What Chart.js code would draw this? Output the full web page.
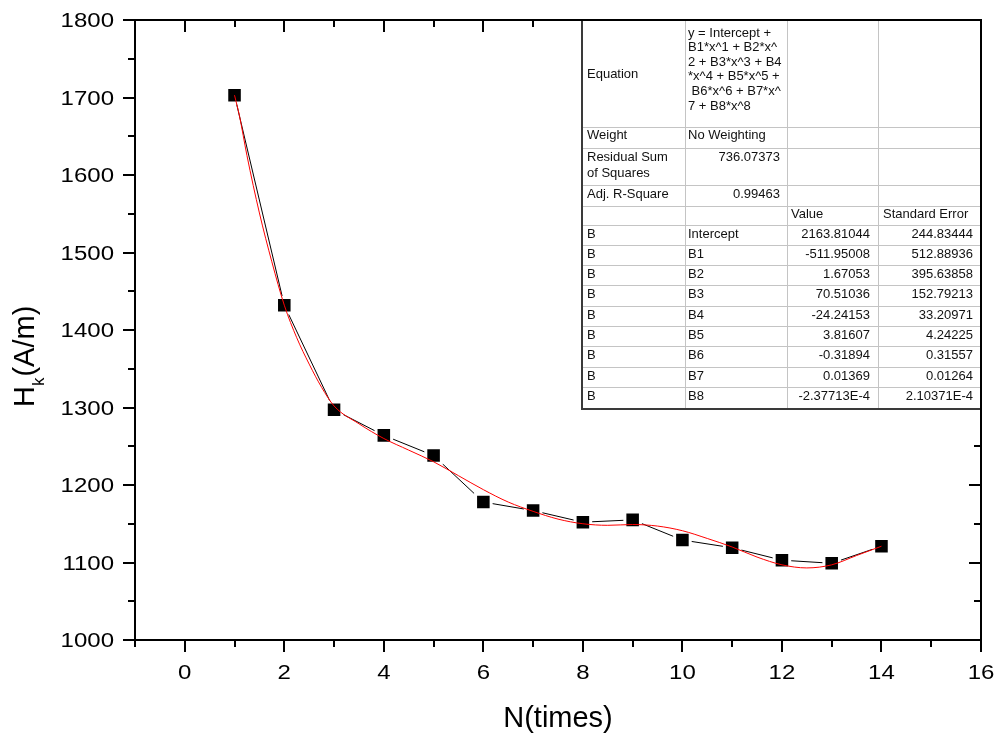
<!DOCTYPE html>
<html>
<head>
<meta charset="utf-8">
<title>Hk vs N</title>
<script src="https://cdn.jsdelivr.net/npm/chart.js@4.4.0/dist/chart.umd.min.js"></script>
<style>
body { margin: 0; background: #fff; }
canvas { display: block; }
</style>
</head>
<body>
<canvas id="hk_chart" width="1000" height="737"></canvas>
<script>
// measured points
let n_values = [1, 2, 3, 4, 5, 6, 7, 8, 9, 10, 11, 12, 13, 14];
let hk_values = [1703, 1432, 1297, 1264, 1238, 1178, 1167, 1152, 1155, 1129, 1119, 1103, 1099, 1121];

// polynomial fit curve
let fit_n = [1, 1.1, 1.25, 1.5, 1.75, 2, 2.25, 2.5, 2.75, 3, 3.5, 4, 4.5, 5, 5.5, 6, 6.5, 7, 7.5, 8, 8.5, 9, 9.5, 10, 10.5, 11, 11.5, 12, 12.5, 13, 13.5, 14];
let fit_hk = [1703, 1676, 1625, 1551, 1488, 1432, 1390, 1356, 1326, 1302, 1279, 1260, 1245, 1230, 1212, 1194, 1178, 1166, 1156, 1150, 1148, 1149, 1147, 1141, 1131, 1120, 1107, 1097, 1093, 1097, 1109, 1121];

let x_ticks = [0, 2, 4, 6, 8, 10, 12, 14, 16];
let x_minor = [-1, 1, 3, 5, 7, 9, 11, 13, 15];
let y_ticks = [1000, 1100, 1200, 1300, 1400, 1500, 1600, 1700, 1800];
let y_minor = [1050, 1150, 1250, 1350, 1450, 1550, 1650, 1750];

// fit report table
let equation_lines = ["y = Intercept +", "B1*x^1 + B2*x^", "2 + B3*x^3 + B4", "*x^4 + B5*x^5 +", " B6*x^6 + B7*x^", "7 + B8*x^8"];
let weight_text = "No Weighting";
let residual_ss = "736.07373";
let adj_r_square = "0.99463";
let param_names = ["Intercept", "B1", "B2", "B3", "B4", "B5", "B6", "B7", "B8"];
let param_values = ["2163.81044", "-511.95008", "1.67053", "70.51036", "-24.24153", "3.81607", "-0.31894", "0.01369", "-2.37713E-4"];
let param_errors = ["244.83444", "512.88936", "395.63858", "152.79213", "33.20971", "4.24225", "0.31557", "0.01264", "2.10371E-4"];

const FONT = '"Liberation Sans", Arial, sans-serif';

function draw_table(ctx) {
    let cols = [581, 685, 787, 878, 981];
    let rows = [20, 127, 148, 185, 206, 225, 245, 265, 285, 306, 326, 346, 367, 387, 409];
    ctx.fillStyle = "#fff";
    ctx.fillRect(cols[0], rows[0], cols[4] - cols[0], rows[rows.length - 1] - rows[0]);

    ctx.strokeStyle = "#c4c4c4";
    ctx.lineWidth = 1;
    ctx.beginPath();
    for (let i = 1; i < rows.length - 1; i++) {
        ctx.moveTo(cols[0], rows[i] + 0.5);
        ctx.lineTo(cols[4], rows[i] + 0.5);
    }
    for (let i = 1; i < cols.length - 1; i++) {
        ctx.moveTo(cols[i] + 0.5, rows[0]);
        ctx.lineTo(cols[i] + 0.5, rows[rows.length - 1]);
    }
    ctx.stroke();

    ctx.strokeStyle = "#3a3a3a";
    ctx.lineWidth = 2;
    ctx.beginPath();
    ctx.moveTo(cols[0] + 1, rows[0]);
    ctx.lineTo(cols[0] + 1, rows[rows.length - 1]);
    ctx.lineTo(cols[4], rows[rows.length - 1]);
    ctx.stroke();

    ctx.fillStyle = "#111";
    ctx.font = "13px " + FONT;
    ctx.textBaseline = "middle";
    let left1 = cols[0] + 6, left2 = cols[1] + 3;

    ctx.textAlign = "left";
    ctx.fillText("Equation", left1, 74);
    equation_lines.forEach((line, i) => ctx.fillText(line, left2, 33 + i * 14.6));

    ctx.fillText("Weight", left1, 135.5);
    ctx.fillText(weight_text, left2, 135.5);

    ctx.fillText("Residual Sum", left1, 157.5);
    ctx.fillText("of Squares", left1, 173);
    ctx.fillText("Adj. R-Square", left1, 194.5);

    ctx.fillText("Value", cols[2] + 4, 214);
    ctx.fillText("Standard Error", cols[3] + 5, 214);

    ctx.textAlign = "right";
    ctx.fillText(residual_ss, cols[2] - 7, 157.5);
    ctx.fillText(adj_r_square, cols[2] - 7, 194.5);

    for (let i = 0; i < param_names.length; i++) {
        let y = rows[5 + i] + 9;
        ctx.textAlign = "left";
        ctx.fillText("B", left1, y);
        ctx.fillText(param_names[i], left2, y);
        ctx.textAlign = "right";
        ctx.fillText(param_values[i], cols[3] - 8, y);
        ctx.fillText(param_errors[i], cols[4] - 8, y);
    }
}

const frame_plugin = {
    id: "frame_plugin",
    afterDraw(chart) {
        let ctx = chart.ctx;
        let area = chart.chartArea;
        let xs = chart.scales.x;
        let ys = chart.scales.y;
        ctx.save();

        // ticks: outward on bottom/left, inward on top/right
        ctx.strokeStyle = "#000";
        ctx.lineWidth = 2;
        ctx.beginPath();
        let tick_x = (v, len) => {
            let px = Math.round(xs.getPixelForValue(v));
            ctx.moveTo(px, area.bottom);
            ctx.lineTo(px, area.bottom + len);
            ctx.moveTo(px, area.top);
            ctx.lineTo(px, area.top + len);
        };
        let tick_y = (v, len) => {
            let py = Math.round(ys.getPixelForValue(v));
            ctx.moveTo(area.left, py);
            ctx.lineTo(area.left - len, py);
            ctx.moveTo(area.right, py);
            ctx.lineTo(area.right - len, py);
        };
        x_ticks.forEach(v => tick_x(v, 12));
        x_minor.forEach(v => tick_x(v, 7));
        y_ticks.forEach(v => tick_y(v, 12));
        y_minor.forEach(v => tick_y(v, 7));
        ctx.stroke();

        draw_table(ctx);

        ctx.strokeStyle = "#000";
        ctx.lineWidth = 2;
        ctx.strokeRect(area.left, area.top, area.right - area.left, area.bottom - area.top);

        // tick labels (slightly wide lettering)
        ctx.fillStyle = "#000";
        ctx.font = "20px " + FONT;
        ctx.textBaseline = "alphabetic";
        y_ticks.forEach(v => {
            ctx.save();
            ctx.translate(114, ys.getPixelForValue(v) + 7);
            ctx.scale(1.2, 1);
            ctx.textAlign = "right";
            ctx.fillText(String(v), 0, 0);
            ctx.restore();
        });
        x_ticks.forEach(v => {
            ctx.save();
            ctx.translate(xs.getPixelForValue(v), 679);
            ctx.scale(1.2, 1);
            ctx.textAlign = "center";
            ctx.fillText(String(v), 0, 0);
            ctx.restore();
        });

        // axis titles
        ctx.font = "29px " + FONT;
        ctx.textAlign = "center";
        ctx.fillText("N(times)", (area.left + area.right) / 2, 727);

        ctx.save();
        ctx.translate(33.5, 407);
        ctx.rotate(-Math.PI / 2);
        ctx.textAlign = "left";
        ctx.font = "29px " + FONT;
        ctx.fillText("H", 0, 0);
        let w = ctx.measureText("H").width;
        ctx.font = "17px " + FONT;
        ctx.fillText("k", w, 10);
        w += ctx.measureText("k").width + 1;
        ctx.font = "29px " + FONT;
        ctx.fillText("(A/m)", w, 0);
        ctx.restore();

        ctx.restore();
    }
};

let hk_points = n_values.map((n, i) => ({ x: n, y: hk_values[i] }));
let fit_points = fit_n.map((n, i) => ({ x: n, y: fit_hk[i] }));

new Chart(document.getElementById("hk_chart"), {
    type: "line",
    data: {
        datasets: [
            {
                label: "Fit",
                data: fit_points,
                borderColor: "#ff0000",
                borderWidth: 1,
                pointRadius: 0,
                cubicInterpolationMode: "monotone",
                order: 0
            },
            {
                label: "Hk",
                data: hk_points,
                borderColor: "#000",
                borderWidth: 1,
                tension: 0,
                pointStyle: "rect",
                pointRadius: 11,
                pointBackgroundColor: "#000",
                pointBorderColor: "#fff",
                pointBorderWidth: 3,
                order: 1
            }
        ]
    },
    options: {
        responsive: false,
        animation: false,
        devicePixelRatio: 1,
        layout: { padding: { top: 20, right: 19, left: 0, bottom: 0 } },
        plugins: {
            legend: { display: false },
            tooltip: { enabled: false }
        },
        scales: {
            x: {
                type: "linear",
                min: -1,
                max: 16,
                ticks: { display: false },
                grid: { display: false, drawTicks: false },
                border: { display: false },
                afterFit: (s) => { s.height = 97; }
            },
            y: {
                type: "linear",
                min: 1000,
                max: 1800,
                ticks: { display: false },
                grid: { display: false, drawTicks: false },
                border: { display: false },
                afterFit: (s) => { s.width = 135; }
            }
        }
    },
    plugins: [frame_plugin]
});
</script>
</body>
</html>
